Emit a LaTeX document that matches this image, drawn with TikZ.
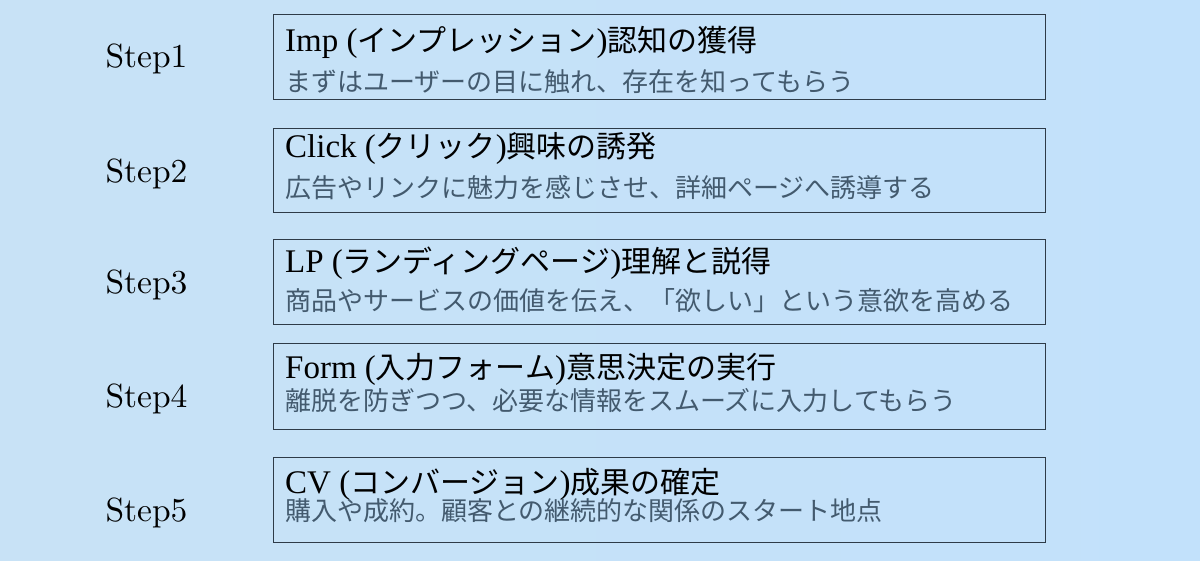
\documentclass[tikz,border=0pt]{standalone}
\usepackage{fontspec}
\newfontfamily\jpfont{Noto Sans CJK JP}
\newfontfamily\headfont{Liberation Serif}
\newfontfamily\stepfont{lmroman10-regular.otf}
\usepackage{tikz}
\usetikzlibrary{positioning}

\definecolor{bgleft}{HTML}{C8E2F6}
\definecolor{bgmid}{HTML}{D5EBFB}
\definecolor{bgright}{HTML}{C2E1FB}
\definecolor{boxline}{HTML}{2E3B48}
\definecolor{notegray}{HTML}{435A6E}

\newcommand{\jp}[1]{{\fontsize{30}{36}\selectfont\jpfont #1}}

\begin{document}
\begin{tikzpicture}[x=1pt,y=-1pt,
                    stage box/.style={draw=boxline,line width=1pt,inner sep=0pt,
                                      minimum width=772pt,minimum height=85pt},
                    step label/.style={anchor=base,inner sep=0pt,
                                       font=\fontsize{33.5}{40}\selectfont\stepfont},
                    head/.style={anchor=base west,inner sep=0pt,
                                 font=\fontsize{33}{38}\selectfont\headfont},
                    note/.style={anchor=base west,inner sep=0pt,text=notegray,
                                 font=\fontsize{26}{32}\selectfont\jpfont}]

  % background
  \shade[left color=bgleft,middle color=bgmid,right color=bgright]
    (0,0) rectangle (1200,561);

  % boxes
  \node[stage box] (imp) at (659,57.5) {};
  \node[stage box,minimum height=84pt] (click) at (659,171) {};
  \node[stage box] (lp) at (659,282.5) {};
  \node[stage box] (form) at (659,386.5) {};
  \node[stage box] (cv) at (659,500) {};

  % step labels
  \node[step label] (s1) at (146.5,68) {Step1};
  \node[step label] (s2) at (146.5,183) {Step2};
  \node[step label] (s3) at (146.5,294) {Step3};
  \node[step label] (s4) at (146.5,407) {Step4};
  \node[step label] (s5) at (146.5,521) {Step5};

  % texts
  \node[head] (imp head) at (285,52) {Imp (\jp{インプレッション})\jp{認知の獲得}};
  \node[note] (imp note) at (285,92) {まずはユーザーの目に触れ、存在を知ってもらう};

  \node[head] (click head) at (285,158) {Click (\jp{クリック})\jp{興味の誘発}};
  \node[note] (click note) at (285,198) {広告やリンクに魅力を感じさせ、詳細ページへ誘導する};

  \node[head] (lp head) at (285,273) {LP (\jp{ランディングページ})\jp{理解と説得}};
  \node[note] (lp note) at (285,311) {商品やサービスの価値を伝え、「欲しい」という意欲を高める};

  \node[head] (form head) at (285,378) {Form (\jp{入力フォーム})\jp{意思決定の実行}};
  \node[note] (form note) at (285,410) {離脱を防ぎつつ、必要な情報をスムーズに入力してもらう};

  \node[head] (cv head) at (285,493) {CV (\jp{コンバージョン})\jp{成果の確定}};
  \node[note] (cv note) at (285,520) {購入や成約。顧客との継続的な関係のスタート地点};
\end{tikzpicture}
\end{document}
